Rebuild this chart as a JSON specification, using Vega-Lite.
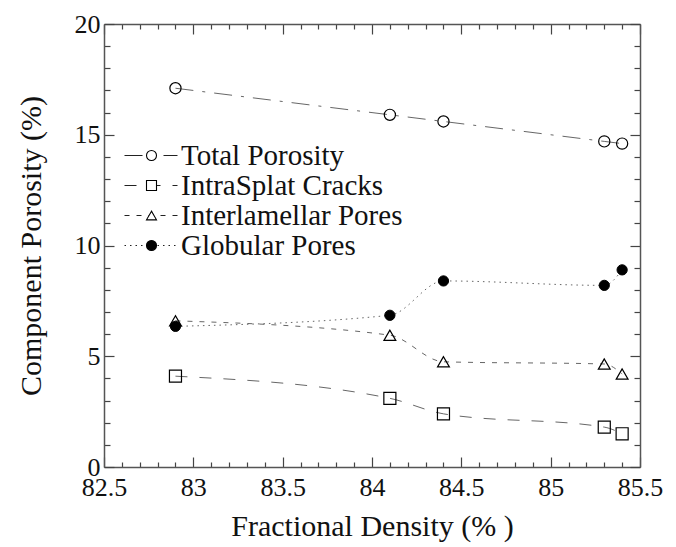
{
  "$schema": "https://vega.github.io/schema/vega-lite/v6.json",
  "width": 536,
  "height": 443,
  "autosize": {"type": "none"},
  "padding": {"left": 104, "top": 24, "right": 36, "bottom": 80},
  "background": "white",
  "config": {"view": {"stroke": null}, "font": "Liberation Serif"},
  "data": {
    "values": [
      {"series": "Total Porosity", "density": 82.9, "porosity": 17.1},
      {"series": "Total Porosity", "density": 84.1, "porosity": 15.9},
      {"series": "Total Porosity", "density": 84.4, "porosity": 15.6},
      {"series": "Total Porosity", "density": 85.3, "porosity": 14.7},
      {"series": "Total Porosity", "density": 85.4, "porosity": 14.6},
      {"series": "IntraSplat Cracks", "density": 82.9, "porosity": 4.1},
      {"series": "IntraSplat Cracks", "density": 84.1, "porosity": 3.1},
      {"series": "IntraSplat Cracks", "density": 84.4, "porosity": 2.4},
      {"series": "IntraSplat Cracks", "density": 85.3, "porosity": 1.8},
      {"series": "IntraSplat Cracks", "density": 85.4, "porosity": 1.5},
      {"series": "Interlamellar Pores", "density": 82.9, "porosity": 6.6},
      {"series": "Interlamellar Pores", "density": 84.1, "porosity": 5.95},
      {"series": "Interlamellar Pores", "density": 84.4, "porosity": 4.75},
      {"series": "Interlamellar Pores", "density": 85.3, "porosity": 4.65},
      {"series": "Interlamellar Pores", "density": 85.4, "porosity": 4.2},
      {"series": "Globular Pores", "density": 82.9, "porosity": 6.35},
      {"series": "Globular Pores", "density": 84.1, "porosity": 6.85},
      {"series": "Globular Pores", "density": 84.4, "porosity": 8.4},
      {"series": "Globular Pores", "density": 85.3, "porosity": 8.2},
      {"series": "Globular Pores", "density": 85.4, "porosity": 8.9}
    ]
  },
  "resolve": {"axis": {"x": "independent", "y": "independent"}},
  "layer": [
    {
      "mark": {"type": "line", "interpolate": "monotone", "color": "#555555", "strokeWidth": 0.9},
      "encoding": {
        "x": {
          "field": "density", "type": "quantitative",
          "scale": {"domain": [82.5, 85.5], "nice": false, "zero": false},
          "axis": {
            "orient": "bottom",
            "values": [82.5,82.6,82.7,82.8,82.9,83,83.1,83.2,83.3,83.4,83.5,83.6,83.7,83.8,83.9,84,84.1,84.2,84.3,84.4,84.5,84.6,84.7,84.8,84.9,85,85.1,85.2,85.3,85.4,85.5],
            "format": "~g",
            "labelExpr": "abs(datum.value*2 - round(datum.value*2)) < 0.001 ? datum.label : ''",
            "tickSize": {"condition": {"test": "abs(datum.value*2 - round(datum.value*2)) < 0.001", "value": -10}, "value": -5},
            "tickColor": "#444444", "tickWidth": 1.2,
            "domainColor": "#555555", "domainWidth": 1.5,
            "grid": false, "labelFlush": false, "labelOverlap": false,
            "labelFont": "Liberation Serif", "labelFontSize": 26, "labelColor": "#111111", "labelPadding": 17,
            "title": "Fractional Density (% )", "titleFont": "Liberation Serif", "titleFontSize": 30,
            "titleFontWeight": "normal", "titleColor": "#111111", "titlePadding": 6
          }
        },
        "y": {
          "field": "porosity", "type": "quantitative",
          "scale": {"domain": [0, 20], "nice": false},
          "axis": {
            "orient": "left",
            "values": [0,1,2,3,4,5,6,7,8,9,10,11,12,13,14,15,16,17,18,19,20],
            "labelExpr": "datum.value % 5 === 0 ? datum.label : ''",
            "tickSize": {"condition": {"test": "datum.value % 5 === 0", "value": -10}, "value": -6},
            "tickColor": "#444444", "tickWidth": 1.2,
            "domainColor": "#555555", "domainWidth": 1.5,
            "grid": false, "labelFlush": false, "labelOverlap": false,
            "labelFont": "Liberation Serif", "labelFontSize": 26, "labelColor": "#111111", "labelPadding": 14,
            "title": "Component Porosity (%)", "titleFont": "Liberation Serif", "titleFontSize": 30,
            "titleFontWeight": "normal", "titleColor": "#111111", "titlePadding": 28
          }
        },
        "strokeDash": {
          "field": "series", "type": "nominal", "sort": null,
          "scale": {"range": [[18, 9, 3, 9], [12, 12], [5, 7], [1.5, 4]]},
          "legend": {
            "title": null, "orient": "none", "legendX": 20, "legendY": 118, "padding": 0,
            "symbolType": "stroke", "symbolSize": 2809, "symbolStrokeWidth": 1, "symbolStrokeColor": "#222222",
            "symbolOpacity": 1, "symbolOffset": 0, "clipHeight": 27,
            "labelOffset": 3, "rowPadding": 0, "labelLimit": 400,
            "labelFont": "Liberation Serif", "labelFontSize": 29, "labelColor": "#111111"
          }
        }
      }
    },
    {
      "transform": [{"filter": "datum.series === 'Total Porosity'"}],
      "mark": {"type": "point", "shape": "circle", "filled": false, "stroke": "black", "fill": "transparent", "strokeWidth": 1.2, "size": 125, "opacity": 1},
      "encoding": {
        "x": {
          "field": "density", "type": "quantitative",
          "axis": {
            "orient": "top",
            "values": [82.5,82.6,82.7,82.8,82.9,83,83.1,83.2,83.3,83.4,83.5,83.6,83.7,83.8,83.9,84,84.1,84.2,84.3,84.4,84.5,84.6,84.7,84.8,84.9,85,85.1,85.2,85.3,85.4,85.5],
            "labels": false, "title": null, "grid": false,
            "tickSize": {"condition": {"test": "abs(datum.value*2 - round(datum.value*2)) < 0.001", "value": -10}, "value": -5},
            "tickColor": "#444444", "tickWidth": 1.2,
            "domainColor": "#555555", "domainWidth": 1.5
          }
        },
        "y": {
          "field": "porosity", "type": "quantitative",
          "axis": {
            "orient": "right",
            "values": [0,1,2,3,4,5,6,7,8,9,10,11,12,13,14,15,16,17,18,19,20],
            "labels": false, "title": null, "grid": false,
            "tickSize": {"condition": {"test": "datum.value % 5 === 0", "value": -10}, "value": -6},
            "tickColor": "#444444", "tickWidth": 1.2,
            "domainColor": "#555555", "domainWidth": 1.5
          }
        }
      }
    },
    {
      "transform": [{"filter": "datum.series === 'IntraSplat Cracks'"}],
      "mark": {"type": "point", "shape": "square", "filled": false, "stroke": "black", "fill": "transparent", "strokeWidth": 1.2, "size": 145, "opacity": 1},
      "encoding": {
        "x": {"field": "density", "type": "quantitative", "axis": null},
        "y": {"field": "porosity", "type": "quantitative", "axis": null}
      }
    },
    {
      "transform": [{"filter": "datum.series === 'Interlamellar Pores'"}],
      "mark": {"type": "point", "shape": "triangle-up", "filled": false, "stroke": "black", "fill": "transparent", "strokeWidth": 1.2, "size": 140, "opacity": 1},
      "encoding": {
        "x": {"field": "density", "type": "quantitative", "axis": null},
        "y": {"field": "porosity", "type": "quantitative", "axis": null}
      }
    },
    {
      "transform": [{"filter": "datum.series === 'Globular Pores'"}],
      "mark": {"type": "point", "shape": "circle", "filled": true, "stroke": "black", "fill": "black", "strokeWidth": 1, "size": 105, "opacity": 1},
      "encoding": {
        "x": {"field": "density", "type": "quantitative", "axis": null},
        "y": {"field": "porosity", "type": "quantitative", "axis": null}
      }
    },
    {
      "mark": {"type": "point", "filled": true, "strokeWidth": 1.1, "opacity": 0},
      "encoding": {
        "x": {"field": "density", "type": "quantitative", "axis": null},
        "y": {"field": "porosity", "type": "quantitative", "axis": null},
        "shape": {
          "field": "series", "type": "nominal",
          "scale": {
            "domain": ["Total Porosity", "IntraSplat Cracks", "Interlamellar Pores", "Globular Pores"],
            "range": ["circle", "square", "triangle-up", "circle"]
          },
          "legend": {
            "title": null, "orient": "none", "legendX": 33, "legendY": 118, "padding": 0,
            "symbolSize": 100, "symbolStrokeWidth": 1.1, "symbolOpacity": 1,
            "symbolOffset": 0, "clipHeight": 27, "labelOffset": 3, "rowPadding": 0, "labelLimit": 400,
            "labelFont": "Liberation Serif", "labelFontSize": 29, "labelExpr": "''"
          }
        },
        "fill": {
          "field": "series", "type": "nominal",
          "scale": {
            "domain": ["Total Porosity", "IntraSplat Cracks", "Interlamellar Pores", "Globular Pores"],
            "range": ["white", "white", "white", "black"]
          },
          "legend": {
            "title": null, "orient": "none", "legendX": 33, "legendY": 118, "padding": 0,
            "symbolSize": 100, "symbolStrokeWidth": 1.1, "symbolOpacity": 1,
            "symbolOffset": 0, "clipHeight": 27, "labelOffset": 3, "rowPadding": 0, "labelLimit": 400,
            "labelFont": "Liberation Serif", "labelFontSize": 29, "labelExpr": "''"
          }
        },
        "stroke": {
          "field": "series", "type": "nominal",
          "scale": {
            "domain": ["Total Porosity", "IntraSplat Cracks", "Interlamellar Pores", "Globular Pores"],
            "range": ["black", "black", "black", "black"]
          },
          "legend": {
            "title": null, "orient": "none", "legendX": 33, "legendY": 118, "padding": 0,
            "symbolSize": 100, "symbolStrokeWidth": 1.1, "symbolOpacity": 1,
            "symbolOffset": 0, "clipHeight": 27, "labelOffset": 3, "rowPadding": 0, "labelLimit": 400,
            "labelFont": "Liberation Serif", "labelFontSize": 29, "labelExpr": "''"
          }
        }
      }
    }
  ]
}
